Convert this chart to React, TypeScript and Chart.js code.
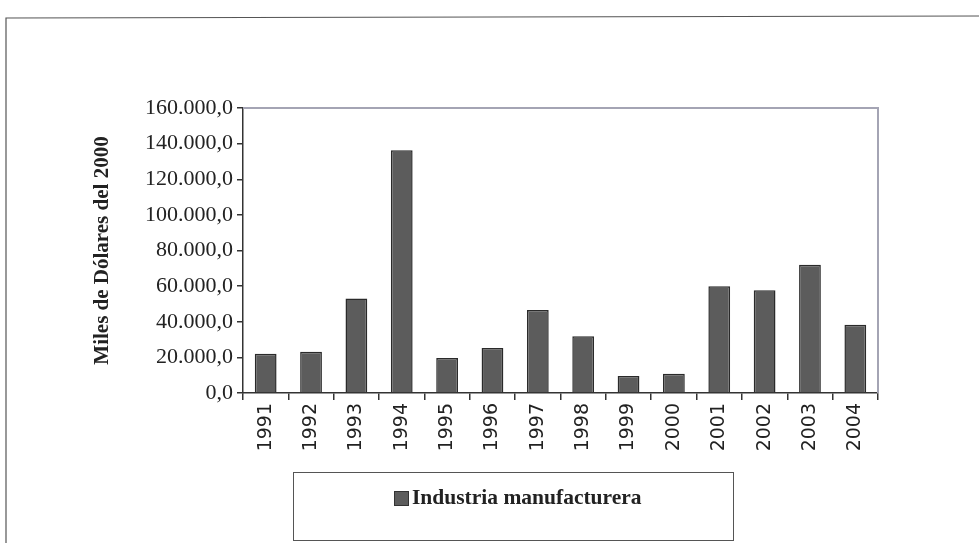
import React, { useEffect, useRef } from 'react';
import { Chart, registerables } from 'chart.js';

Chart.register(...registerables);

const years = ['1991', '1992', '1993', '1994', '1995', '1996', '1997', '1998', '1999', '2000', '2001', '2002', '2003', '2004'];
const manufacturing = [22000, 23100, 53000, 136300, 19700, 25200, 46600, 31900, 9500, 10800, 60000, 57700, 72000, 38300];
const seriesLabel = 'Industria manufacturera';
const yAxisTitle = 'Miles de Dólares del 2000';
const yMin = 0;
const yMax = 160000;
const yStep = 20000;

const SERIF = '"Liberation Serif", "Times New Roman", serif';
const SANS = '"DejaVu Sans", Verdana, sans-serif';

function formatEs(v: number): string {
  const s = Math.round(v).toString().replace(/\B(?=(\d{3})+(?!\d))/g, '.');
  return s + ',0';
}

const decorPlugin = {
  id: 'decor',
  beforeDraw(chart: any) {
    const ctx = chart.ctx;
    ctx.save();
    ctx.fillStyle = '#ffffff';
    ctx.fillRect(0, 0, chart.width, chart.height);
    // outer frame
    ctx.strokeStyle = '#555555';
    ctx.lineWidth = 1.2;
    ctx.beginPath();
    ctx.moveTo(6, chart.height + 5);
    ctx.lineTo(6, 18);
    ctx.lineTo(chart.width + 5, 16);
    ctx.stroke();
    ctx.restore();
  },
  beforeDatasetsDraw(chart: any) {
    const { ctx, chartArea } = chart;
    ctx.save();
    ctx.strokeStyle = '#a4a4b4';
    ctx.lineWidth = 2;
    ctx.beginPath();
    ctx.moveTo(chartArea.left, chartArea.top);
    ctx.lineTo(chartArea.right, chartArea.top);
    ctx.lineTo(chartArea.right, chartArea.bottom);
    ctx.stroke();
    ctx.restore();
  },
  afterDraw(chart: any) {
    const ctx = chart.ctx;
    const ds = chart.data.datasets[0];
    ctx.save();
    // legend box
    ctx.strokeStyle = '#555555';
    ctx.lineWidth = 1;
    ctx.strokeRect(293.5, 472.5, 440, 68);
    // marker
    ctx.fillStyle = ds.backgroundColor;
    ctx.fillRect(394, 491, 14, 14);
    ctx.strokeStyle = '#333333';
    ctx.strokeRect(394.5, 491.5, 14, 14);
    // text
    ctx.fillStyle = '#222222';
    ctx.font = 'bold 21.5px ' + SERIF;
    ctx.textAlign = 'left';
    ctx.textBaseline = 'middle';
    ctx.fillText(ds.label, 412, 498);
    ctx.restore();
  },
};

export default function App() {
  const canvasRef = useRef<HTMLCanvasElement | null>(null);

  useEffect(() => {
    if (!canvasRef.current) return;
    const chart = new Chart(canvasRef.current, {
      type: 'bar',
      data: {
        labels: years,
        datasets: [
          {
            label: seriesLabel,
            data: manufacturing,
            backgroundColor: '#5c5c5c',
            borderColor: '#2a2a2a',
            borderWidth: 1.5,
            barPercentage: 0.48,
            categoryPercentage: 1,
          },
        ],
      },
      options: {
        animation: false,
        responsive: true,
        maintainAspectRatio: false,
        layout: { padding: { left: 0, top: 108, right: 101, bottom: 0 } },
        plugins: {
          legend: { display: false },
          tooltip: { enabled: false },
        },
        scales: {
          x: {
            offset: true,
            grid: {
              offset: true,
              drawOnChartArea: false,
              drawTicks: true,
              tickLength: 7,
              color: '#333333',
              lineWidth: 1.5,
            },
            border: { display: true, color: '#333333', width: 1.5 },
            ticks: {
              minRotation: 90,
              maxRotation: 90,
              padding: 3,
              color: '#222222',
              font: { family: SANS, size: 19 },
            },
            afterFit(scale: any) {
              scale.height = 150;
            },
          },
          y: {
            min: yMin,
            max: yMax,
            grid: {
              drawOnChartArea: false,
              drawTicks: true,
              tickLength: 6,
              color: '#333333',
              lineWidth: 1.5,
            },
            border: { display: true, color: '#333333', width: 1.5 },
            ticks: {
              stepSize: yStep,
              padding: 4,
              color: '#222222',
              font: { family: SERIF, size: 22 },
              callback: (v: any) => formatEs(Number(v)),
            },
            title: {
              display: true,
              text: yAxisTitle,
              color: '#222222',
              font: { family: SERIF, size: 21, weight: 'bold' },
              padding: { top: 90, bottom: 0 },
            },
            afterFit(scale: any) {
              scale.width = 243;
            },
          },
        },
      },
      plugins: [decorPlugin],
    });
    return () => chart.destroy();
  }, []);

  return (
    <div style={{ position: 'absolute', left: 0, top: 0, width: 979, height: 543 }}>
      <canvas ref={canvasRef} />
    </div>
  );
}
